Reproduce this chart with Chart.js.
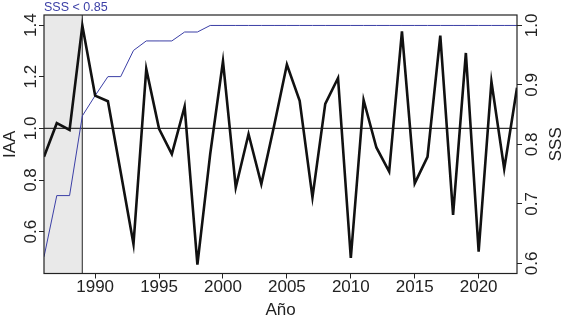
<!DOCTYPE html>
<html>
<head>
<meta charset="utf-8">
<script src="https://cdn.jsdelivr.net/npm/chart.js@4.4.0/dist/chart.umd.min.js"></script>
<style>
  html, body { margin: 0; padding: 0; background: #fff; }
  #wrap { width: 565px; height: 320px; }
</style>
</head>
<body>
<div id="wrap"><canvas id="iaaChart" width="565" height="320"></canvas></div>
<script>
// years of the series
const years = [1986, 1987, 1988, 1989, 1990, 1991, 1992, 1993, 1994, 1995,
  1996, 1997, 1998, 1999, 2000, 2001, 2002, 2003, 2004, 2005,
  2006, 2007, 2008, 2009, 2010, 2011, 2012, 2013, 2014, 2015,
  2016, 2017, 2018, 2019, 2020, 2021, 2022, 2023];

// IAA (left axis)
const iaa = [0.89, 1.02, 0.994, 1.398, 1.127, 1.105, 0.83, 0.552, 1.23, 0.998,
  0.90, 1.084, 0.472, 0.90, 1.26, 0.771, 0.978, 0.784, 1.01, 1.247,
  1.107, 0.733, 1.095, 1.195, 0.498, 1.11, 0.926, 0.833, 1.376, 0.787,
  0.89, 1.359, 0.665, 1.292, 0.523, 1.181, 0.843, 1.157];

// SSS (right axis)
const sss = [0.611, 0.714, 0.714, 0.848, 0.882, 0.914, 0.914, 0.958, 0.974, 0.974,
  0.974, 0.989, 0.989, 1.0, 1.0, 1.0, 1.0, 1.0, 1.0, 1.0,
  1.0, 1.0, 1.0, 1.0, 1.0, 1.0, 1.0, 1.0, 1.0, 1.0,
  1.0, 1.0, 1.0, 1.0, 1.0, 1.0, 1.0, 1.0];

const xTicks = [1990, 1995, 2000, 2005, 2010, 2015, 2020];
const iaaTicks = [0.6, 0.8, 1.0, 1.2, 1.4];
const sssTicks = [0.6, 0.7, 0.8, 0.9, 1.0];

const refIaa = 1.0;
const cutYear = 1989;
const cutLabel = "SSS < 0.85";

const FONT = "'Liberation Sans', Arial, Helvetica, sans-serif";
const TEXT = "#222";
const BLUE = "#3b3fa6";

// grey band, reference lines, box and all text
const decorPlugin = {
    id: "decor",
    beforeDatasetsDraw(chart) {
        const ctx = chart.ctx;
        const a = chart.chartArea;
        const x = chart.scales.x;
        const y = chart.scales.y;
        const xc = x.getPixelForValue(cutYear);

        ctx.save();
        ctx.fillStyle = "#e9e9e9";
        ctx.fillRect(a.left, a.top, xc - a.left, a.bottom - a.top);

        ctx.strokeStyle = "#555";
        ctx.lineWidth = 1.3;
        ctx.beginPath();
        ctx.moveTo(xc, a.top);
        ctx.lineTo(xc, a.bottom);
        ctx.stroke();

        const yr = y.getPixelForValue(refIaa);
        ctx.strokeStyle = "#333";
        ctx.lineWidth = 1.4;
        ctx.beginPath();
        ctx.moveTo(a.left, yr);
        ctx.lineTo(a.right, yr);
        ctx.stroke();
        ctx.restore();
    },
    afterDraw(chart) {
        const ctx = chart.ctx;
        const a = chart.chartArea;
        const x = chart.scales.x;
        const y = chart.scales.y;
        const y1 = chart.scales.y1;

        ctx.save();
        ctx.strokeStyle = "#222";
        ctx.lineWidth = 1.2;
        ctx.strokeRect(a.left, a.top, a.right - a.left, a.bottom - a.top);

        ctx.fillStyle = TEXT;
        ctx.font = "17px " + FONT;
        ctx.textAlign = "center";
        ctx.textBaseline = "middle";

        x.ticks.forEach(t => {
            ctx.fillText(String(t.value), x.getPixelForValue(t.value), a.bottom + 14);
        });
        ctx.fillText("Año", (a.left + a.right) / 2, 310);

        const vertical = (txt, px, py) => {
            ctx.save();
            ctx.translate(px, py);
            ctx.rotate(-Math.PI / 2);
            ctx.fillText(txt, 0, 0);
            ctx.restore();
        };

        y.ticks.forEach(t => vertical(t.value.toFixed(1), 31, y.getPixelForValue(t.value)));
        y1.ticks.forEach(t => vertical(t.value.toFixed(1), 532, y1.getPixelForValue(t.value)));
        vertical("IAA", 10, (a.top + a.bottom) / 2);
        vertical("SSS", 556, (a.top + a.bottom) / 2);

        ctx.fillStyle = BLUE;
        ctx.font = "12.5px " + FONT;
        ctx.textAlign = "left";
        ctx.fillText(cutLabel, a.left, 7.5);
        ctx.restore();
    }
};

const tickGrid = {
    drawOnChartArea: false,
    drawTicks: true,
    tickLength: 5,
    tickWidth: 1,
    tickColor: "#222"
};

new Chart(document.getElementById("iaaChart"), {

    type: "line",

    data: {
        datasets: [
            {
                label: "IAA",
                data: years.map((yr, i) => ({ x: yr, y: iaa[i] })),
                yAxisID: "y",
                borderColor: "#111",
                borderWidth: 2.6,
                pointRadius: 0,
                tension: 0,
                order: 0
            },
            {
                label: "SSS",
                data: years.map((yr, i) => ({ x: yr, y: sss[i] })),
                yAxisID: "y1",
                borderColor: BLUE,
                borderWidth: 1,
                pointRadius: 0,
                tension: 0,
                order: 1
            }
        ]
    },

    options: {
        responsive: false,
        animation: false,
        layout: { padding: { top: 15, left: 0, right: 0, bottom: 0 } },
        plugins: {
            legend: { display: false },
            tooltip: { enabled: false }
        },
        scales: {
            x: {
                type: "linear",
                min: years[0],
                max: years[years.length - 1],
                afterBuildTicks: s => { s.ticks = xTicks.map(v => ({ value: v })); },
                afterFit: s => { s.height = 46.5; },
                ticks: { display: false },
                grid: tickGrid,
                border: { display: false }
            },
            y: {
                position: "left",
                min: 0.438,
                max: 1.439,
                afterBuildTicks: s => { s.ticks = iaaTicks.map(v => ({ value: v })); },
                afterFit: s => { s.width = 44; },
                ticks: { display: false },
                grid: tickGrid,
                border: { display: false }
            },
            y1: {
                position: "right",
                min: 0.583,
                max: 1.0176,
                afterBuildTicks: s => { s.ticks = sssTicks.map(v => ({ value: v })); },
                afterFit: s => { s.width = 48; },
                ticks: { display: false },
                grid: tickGrid,
                border: { display: false }
            }
        }
    },

    plugins: [decorPlugin]

});
</script>
</body>
</html>
